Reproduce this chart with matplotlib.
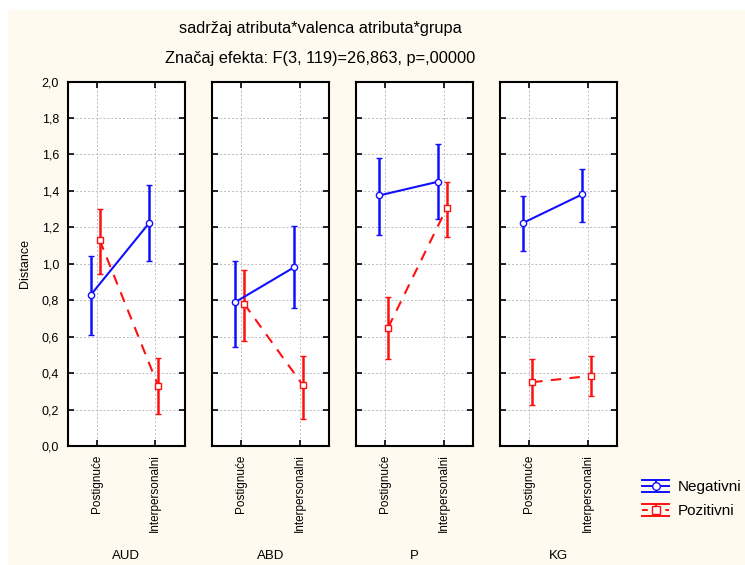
import matplotlib
matplotlib.use("Agg")
import matplotlib.pyplot as plt
from matplotlib.patches import Rectangle
from matplotlib.lines import Line2D
from matplotlib.legend_handler import HandlerBase
from matplotlib.ticker import FuncFormatter

plt.rcParams['font.family'] = ['Liberation Sans', 'DejaVu Sans']

groups = ["AUD", "ABD", "P", "KG"]
categories = ["Postignuće", "Interpersonalni"]
series_names = ["Negativni", "Pozitivni"]

# Negativni: means and error bounds per group (Postignuće, Interpersonalni)
neg_mean = [[0.83, 1.225], [0.79, 0.98], [1.375, 1.45], [1.225, 1.38]]
neg_low = [[0.61, 1.015], [0.545, 0.755], [1.16, 1.245], [1.07, 1.23]]
neg_high = [[1.04, 1.43], [1.015, 1.205], [1.58, 1.655], [1.37, 1.52]]

# Pozitivni
pos_mean = [[1.13, 0.33], [0.78, 0.335], [0.65, 1.305], [0.35, 0.385]]
pos_low = [[0.945, 0.175], [0.575, 0.15], [0.475, 1.145], [0.225, 0.275]]
pos_high = [[1.30, 0.485], [0.965, 0.495], [0.82, 1.45], [0.475, 0.495]]

title1 = "sadržaj atributa*valenca atributa*grupa"
title2 = "Značaj efekta: F(3, 119)=26,863, p=,00000"
ylabel = "Distance"

W, H = 745, 565
fig = plt.figure(figsize=(W / 100, H / 100), dpi=100)
fig.patch.set_facecolor("white")
fig.patches.append(Rectangle((8 / W, 0), 1 - 8 / W, 1 - 10 / H, transform=fig.transFigure,
                             facecolor="#FFFAF0", edgecolor="none", zorder=-10))

lefts = [67.5, 212, 356, 500]
top_px, bot_px = 81.5, 446
pw = 117
blue = "#1010FF"
red = "#FF1010"
styles = [dict(color=blue, ls="-", marker="o"), dict(color=red, ls=(0, (3, 3)), marker="s")]

for gi, g in enumerate(groups):
    ax = fig.add_axes([lefts[gi] / W, 1 - bot_px / H, pw / W, (bot_px - top_px) / H])
    ax.set_facecolor("white")
    x = list(range(len(categories)))
    xb = [v - 0.1 for v in x]
    xr = [v + 0.05 for v in x]
    nm = neg_mean[gi]
    pm = pos_mean[gi]
    ne = [[m - l for m, l in zip(nm, neg_low[gi])], [h - m for m, h in zip(nm, neg_high[gi])]]
    pe = [[m - l for m, l in zip(pm, pos_low[gi])], [h - m for m, h in zip(pm, pos_high[gi])]]
    ax.errorbar(xb, nm, yerr=ne, color=blue, lw=1.5, elinewidth=1.8, capsize=2.5, capthick=1.8,
                marker="o", ms=4.5, mfc="white", mec=blue, mew=1.0, zorder=3)
    ax.errorbar(xr, pm, yerr=pe, color=red, lw=1.5, ls=(0, (5, 4)), elinewidth=1.8, capsize=2.5,
                capthick=1.8, marker="s", ms=4.5, mfc="white", mec=red, mew=1.0, zorder=3)
    ax.set_xlim(-0.5, 1.5)
    ax.set_ylim(0, 2.0)
    ax.set_yticks([i * 0.2 for i in range(11)])
    ax.set_xticks(x)
    ax.set_xticklabels(categories, rotation=90, fontsize=8.5)
    ax.grid(True, ls=(0, (2, 2)), color="#BBBBBB", lw=0.7)
    ax.set_axisbelow(True)
    ax.tick_params(direction="in", length=4, width=1.2, top=True, right=True, pad=6, labelsize=8.5)
    for s in ax.spines.values():
        s.set_linewidth(1.5)
    if gi == 0:
        ax.yaxis.set_major_formatter(FuncFormatter(lambda v, p: f"{v:.1f}".replace(".", ",")))
        ax.tick_params(axis="y", labelsize=9)
        ax.set_ylabel(ylabel, fontsize=9, labelpad=8)
    else:
        ax.set_yticklabels([])
    fig.text((lefts[gi] + pw / 2) / W, 1 - 556 / H, g, ha="center", va="center", fontsize=9.5)

fig.text(320 / W, 1 - 29 / H, title1, ha="center", va="center", fontsize=11.8)
fig.text(320 / W, 1 - 58 / H, title2, ha="center", va="center", fontsize=11.8)


class ErrHandler(HandlerBase):
    def create_artists(self, legend, orig_handle, xdescent, ydescent, width, height, fontsize, trans):
        st = orig_handle
        c = st["color"]
        cy = height / 2 - ydescent
        d = 4.3
        arts = [
            Line2D([-xdescent, width - xdescent], [cy + d, cy + d], color=c, lw=1.4, transform=trans),
            Line2D([-xdescent, width - xdescent], [cy - d, cy - d], color=c, lw=1.4, transform=trans),
            Line2D([-xdescent, width - xdescent], [cy, cy], color=c, lw=1.4, ls=st["ls"], transform=trans),
            Line2D([width / 2 - xdescent] * 2, [cy - d, cy + d], color=c, lw=1.4, transform=trans),
            Line2D([width / 2 - xdescent], [cy], color=c, marker=st["marker"], ms=5.5, mfc="white",
                   mec=c, mew=1.0, ls="none", transform=trans),
        ]
        return arts


leg = fig.legend(styles, series_names, loc="center left", bbox_to_anchor=(628 / W, 1 - 499 / H),
                 frameon=False, fontsize=11, handlelength=1.8, handletextpad=0.55, labelspacing=0.65,
                 handler_map={dict: ErrHandler()})

fig.savefig("out.png", dpi=100, facecolor=fig.get_facecolor())
